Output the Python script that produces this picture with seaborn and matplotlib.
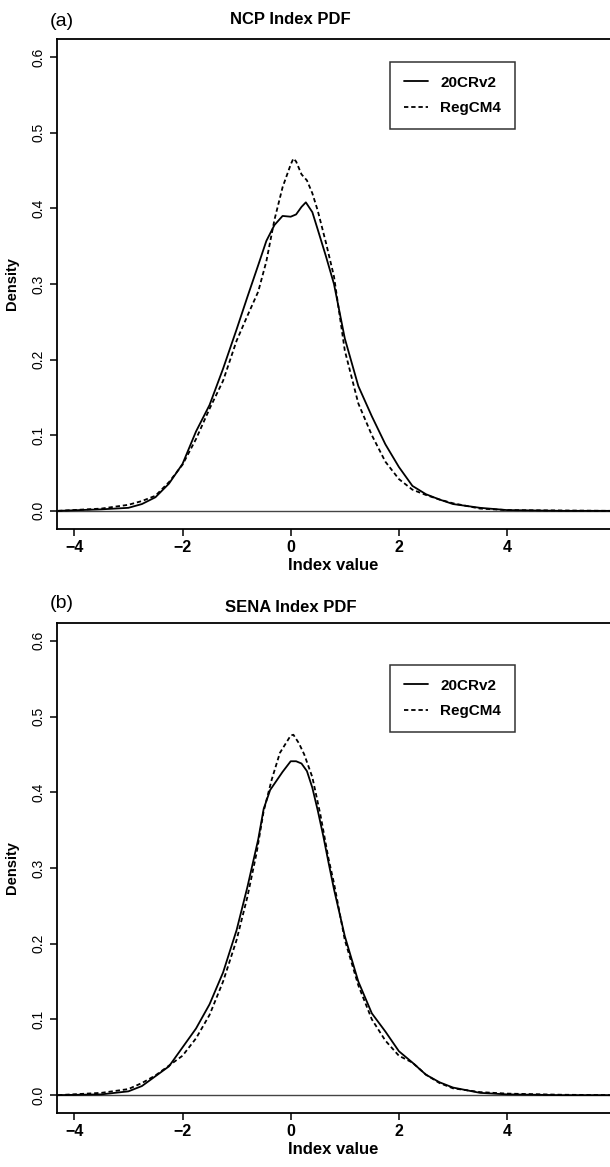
import numpy as np
import pandas as pd
import seaborn as sns
import matplotlib
matplotlib.use("Agg")
import matplotlib.pyplot as plt

# values (density curves of the index)
ncp_x_20cr = [-4.3, -3.5, -3.0, -2.75, -2.5, -2.25, -2.0, -1.75, -1.5, -1.25, -1.0, -0.8, -0.6, -0.45,
              -0.3, -0.15, 0.0, 0.1, 0.2, 0.28, 0.4, 0.5, 0.65, 0.8, 1.0, 1.25, 1.5, 1.75, 2.0, 2.25,
              2.5, 2.75, 3.0, 3.5, 4.0, 5.0, 5.9]
ncp_y_20cr = [0.0, 0.002, 0.004, 0.009, 0.018, 0.036, 0.062, 0.105, 0.140, 0.188, 0.240, 0.283, 0.325,
              0.357, 0.378, 0.390, 0.389, 0.392, 0.402, 0.408, 0.395, 0.372, 0.337, 0.300, 0.228, 0.165,
              0.125, 0.088, 0.058, 0.033, 0.022, 0.015, 0.009, 0.004, 0.001, 0.0, 0.0]
ncp_x_regcm = [-4.3, -3.5, -3.0, -2.75, -2.5, -2.25, -2.0, -1.75, -1.5, -1.25, -1.0, -0.8, -0.6, -0.45,
               -0.3, -0.15, 0.0, 0.05, 0.1, 0.2, 0.3, 0.4, 0.5, 0.65, 0.8, 1.0, 1.25, 1.5, 1.75, 2.0,
               2.25, 2.5, 2.75, 3.0, 3.5, 4.0, 5.0, 5.9]
ncp_y_regcm = [0.0, 0.003, 0.008, 0.013, 0.020, 0.038, 0.061, 0.095, 0.135, 0.172, 0.225, 0.258, 0.290,
               0.330, 0.385, 0.428, 0.458, 0.466, 0.462, 0.445, 0.437, 0.420, 0.397, 0.355, 0.310, 0.212,
               0.142, 0.100, 0.065, 0.042, 0.028, 0.021, 0.015, 0.010, 0.003, 0.001, 0.0005, 0.0]

sena_x_20cr = [-4.3, -3.5, -3.0, -2.75, -2.5, -2.25, -2.0, -1.75, -1.5, -1.25, -1.0, -0.8, -0.6, -0.5,
               -0.38, -0.15, 0.0, 0.1, 0.2, 0.3, 0.4, 0.5, 0.6, 0.7, 0.8, 1.0, 1.25, 1.5, 1.75, 2.0,
               2.25, 2.5, 2.75, 3.0, 3.5, 4.0, 5.0, 5.9]
sena_y_20cr = [0.0, 0.001, 0.005, 0.012, 0.025, 0.038, 0.063, 0.088, 0.120, 0.162, 0.218, 0.275, 0.338,
               0.378, 0.403, 0.427, 0.441, 0.441, 0.438, 0.428, 0.406, 0.376, 0.343, 0.307, 0.272, 0.210,
               0.150, 0.108, 0.084, 0.058, 0.043, 0.027, 0.017, 0.010, 0.003, 0.001, 0.0, 0.0]
sena_x_regcm = [-4.3, -3.5, -3.0, -2.75, -2.5, -2.25, -2.0, -1.75, -1.5, -1.25, -1.0, -0.8, -0.63, -0.5,
                -0.35, -0.2, 0.0, 0.05, 0.15, 0.25, 0.4, 0.55, 0.7, 0.8, 1.0, 1.25, 1.5, 1.75, 2.0,
                2.25, 2.5, 2.75, 3.0, 3.5, 4.0, 5.0, 5.9]
sena_y_regcm = [0.0, 0.003, 0.008, 0.016, 0.026, 0.039, 0.052, 0.075, 0.106, 0.150, 0.205, 0.262, 0.320,
                0.375, 0.417, 0.452, 0.475, 0.476, 0.465, 0.450, 0.420, 0.370, 0.312, 0.280, 0.205,
                0.145, 0.100, 0.072, 0.052, 0.043, 0.027, 0.016, 0.009, 0.004, 0.002, 0.0005, 0.0]

series_names = ["20CRv2", "RegCM4"]
x_ticks = [-4, -2, 0, 2, 4]
y_ticks = [0.0, 0.1, 0.2, 0.3, 0.4, 0.5, 0.6]

sns.set_style("ticks")
plt.rcParams['font.family'] = ['Liberation Sans', 'DejaVu Sans']
plt.rcParams['text.color'] = 'black'
plt.rcParams['axes.labelcolor'] = 'black'
plt.rcParams['xtick.color'] = 'black'
plt.rcParams['ytick.color'] = 'black'

W, H = 610, 1167
fig = plt.figure(figsize=(W / 100, H / 100), dpi=100)


def make_df(x1, y1, x2, y2):
    a = pd.DataFrame({'x': x1, 'y': y1, 'src': series_names[0]})
    b = pd.DataFrame({'x': x2, 'y': y2, 'src': series_names[1]})
    return pd.concat([a, b], ignore_index=True)


panels = [
    dict(df=make_df(ncp_x_20cr, ncp_y_20cr, ncp_x_regcm, ncp_y_regcm), title="NCP Index PDF", tag="(a)",
         top=39, bottom=529, title_y=20, tag_y=22, leg_top=62),
    dict(df=make_df(sena_x_20cr, sena_y_20cr, sena_x_regcm, sena_y_regcm), title="SENA Index PDF", tag="(b)",
         top=622.7, bottom=1113.3, title_y=607, tag_y=604, leg_top=665),
]

left_px = 57
x0_px, px_per_unit = 290.7, 54.1
xlim = ((left_px - x0_px) / px_per_unit, (W - x0_px) / px_per_unit)

for p in panels:
    ax = fig.add_axes([left_px / W, 1 - p['bottom'] / H, (W - left_px) / W, (p['bottom'] - p['top']) / H])
    sns.lineplot(data=p['df'], x='x', y='y', style='src', color='black', linewidth=1.3,
                 dashes={"20CRv2": "", "RegCM4": (2.4, 1.6)}, estimator=None, sort=True,
                 ax=ax, legend=False)
    ax.axhline(0, color='#444444', linewidth=1.0, zorder=0)
    ax.set_xlim(*xlim)
    ax.set_ylim(-0.024, 0.624)
    ax.set_xticks(x_ticks)
    ax.set_xticklabels(["\u22124", "\u22122", "0", "2", "4"], fontsize=11.5, fontweight='bold')
    ax.set_yticks(y_ticks)
    ax.set_yticklabels([f"{v:.1f}" for v in y_ticks], fontsize=10, rotation=90, va='center')
    ax.tick_params(direction='out', length=5, width=1.1, color='black', pad=3)
    for s in ['left', 'top', 'bottom']:
        ax.spines[s].set_visible(True)
        ax.spines[s].set_linewidth(1.3)
        ax.spines[s].set_color('black')
    ax.spines['right'].set_visible(False)
    ax.set_xlabel("Index value", fontsize=12, fontweight='bold', labelpad=2)
    ax.set_ylabel("Density", fontsize=10.5, fontweight='bold')
    ax.yaxis.set_label_coords((19 - left_px) / (W - left_px), 0.5)

    fig.text(x0_px / W, 1 - p['title_y'] / H, p['title'], ha='center', va='center',
             fontsize=12, fontweight='bold')
    fig.text(50 / W, 1 - p['tag_y'] / H, p['tag'], ha='left', va='center', fontsize=14)

    handles = [plt.Line2D([], [], color='black', lw=1.3),
               plt.Line2D([], [], color='black', lw=1.3, dashes=(2.4, 1.6))]
    leg = ax.legend(handles, series_names, loc='upper right',
                    bbox_to_anchor=(515 / W, 1 - p['leg_top'] / H), bbox_transform=fig.transFigure,
                    borderaxespad=0, fancybox=False, frameon=True, edgecolor='black',
                    prop={'size': 11, 'weight': 'bold'}, handlelength=1.6, handletextpad=0.8,
                    labelspacing=0.75, borderpad=0.9)
    leg.get_frame().set_linewidth(1.1)

fig.savefig("out.png", dpi=100)
